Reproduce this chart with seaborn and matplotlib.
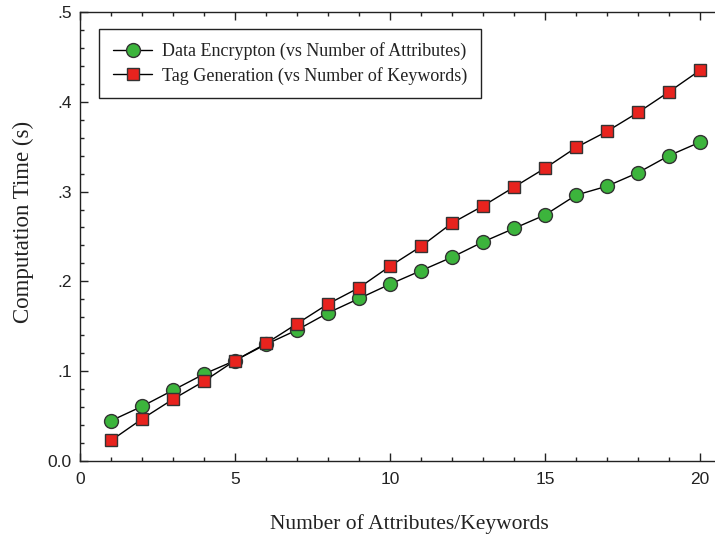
import matplotlib
matplotlib.use("Agg")
import matplotlib.pyplot as plt
import matplotlib.ticker as tkr
import seaborn as sns
import numpy as np
import pandas as pd

# data
counts = list(range(1, 21))
encTime = [0.045, 0.061, 0.079, 0.097, 0.112, 0.130, 0.146, 0.165, 0.181, 0.197,
           0.212, 0.227, 0.244, 0.259, 0.274, 0.296, 0.306, 0.321, 0.340, 0.355]
tagTime = [0.023, 0.047, 0.069, 0.089, 0.112, 0.131, 0.153, 0.175, 0.193, 0.217,
           0.239, 0.265, 0.284, 0.305, 0.326, 0.349, 0.367, 0.388, 0.411, 0.435]
encLabel = "Data Encrypton (vs Number of Attributes)"
tagLabel = "Tag Generation (vs Number of Keywords)"
yTicks = [0.0, 0.1, 0.2, 0.3, 0.4, 0.5]
yTickLabels = ["0.0", ".1", ".2", ".3", ".4", ".5"]
xTicks = [0, 5, 10, 15, 20]

sns.set_theme(style="ticks")
plt.rcParams['font.family'] = 'Liberation Serif'

df = pd.DataFrame({"n": counts, "enc": encTime, "tag": tagTime})

fig = plt.figure(figsize=(7.15, 5.35), dpi=100)
ax = fig.add_axes([0.112, 0.138, 0.8867, 0.84])

sns.lineplot(data=df, x="n", y="enc", ax=ax, color="black", lw=1,
             marker="o", markersize=10, markerfacecolor="#3cb43c",
             markeredgecolor="#333333", markeredgewidth=1, label=encLabel)
sns.lineplot(data=df, x="n", y="tag", ax=ax, color="black", lw=1,
             marker="s", markersize=9, markerfacecolor="#e8231e",
             markeredgecolor="#333333", markeredgewidth=1, label=tagLabel)

ax.set_xlim(0, 20.45)
ax.set_ylim(0, 0.5)
ax.set_xticks(xTicks)
ax.set_yticks(yTicks)
ax.set_yticklabels(yTickLabels)
ax.xaxis.set_minor_locator(tkr.MultipleLocator(1))
ax.yaxis.set_minor_locator(tkr.MultipleLocator(0.02))

for lab in ax.get_xticklabels() + ax.get_yticklabels():
    lab.set_family("Liberation Sans")
    lab.set_fontsize(12.5)
    lab.set_color("#222222")

ax.tick_params(which="both", direction="in", top=True, right=False,
               color="#222222", width=1)
ax.tick_params(which="major", length=6, pad=8)
ax.tick_params(which="minor", length=3)
ax.tick_params(axis="y", which="major", pad=6)

for s in ["left", "bottom", "top"]:
    ax.spines[s].set_visible(True)
    ax.spines[s].set_color("#222222")
    ax.spines[s].set_linewidth(1)
ax.spines["right"].set_visible(False)

ax.set_xlabel("Number of Attributes/Keywords", fontsize=15.5, color="#222222")
ax.set_ylabel("Computation Time (s)", fontsize=16.5, color="#222222")
ax.xaxis.set_label_coords(0.52, -0.117)
ax.yaxis.set_label_coords(-0.073, 0.532)

leg = ax.legend(loc="upper left", bbox_to_anchor=(0.03, 0.962), fontsize=13,
                fancybox=False, edgecolor="#222222", framealpha=1,
                handlelength=2.2, borderpad=0.75, labelspacing=0.35,
                handletextpad=0.55, borderaxespad=0)
leg.get_frame().set_linewidth(1)
for t in leg.get_texts():
    t.set_color("#222222")

fig.savefig("out.png", dpi=100)
